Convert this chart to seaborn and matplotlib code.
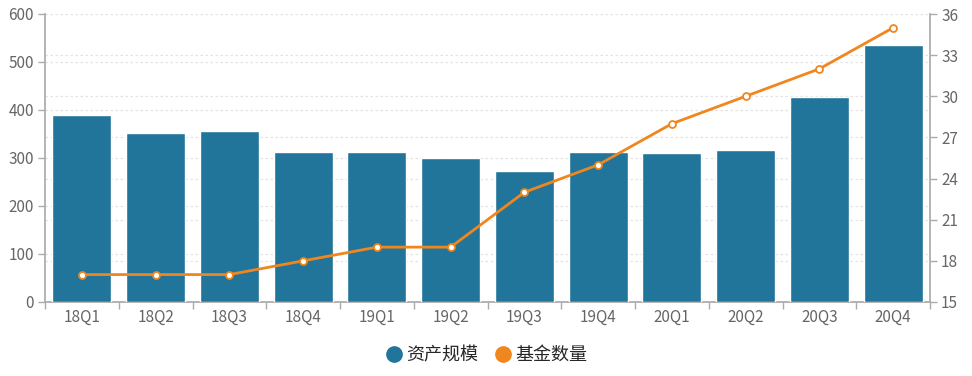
import numpy as np
import pandas as pd
import matplotlib
matplotlib.use("Agg")
import matplotlib.pyplot as plt
import seaborn as sns
from matplotlib.lines import Line2D
from matplotlib.ticker import FixedLocator

categories = ["18Q1", "18Q2", "18Q3", "18Q4", "19Q1", "19Q2", "19Q3", "19Q4",
              "20Q1", "20Q2", "20Q3", "20Q4"]
asset_scale = [390, 352, 356, 313, 313, 300, 272, 313, 311, 317, 428, 535]
fund_count = [17, 17, 17, 18, 19, 19, 23, 25, 28, 30, 32, 35]
series_names = ["资产规模", "基金数量"]
left_ticks = [0, 100, 200, 300, 400, 500, 600]
right_ticks = [15, 18, 21, 24, 27, 30, 33, 36]

sns.set_theme(style="white")
plt.rcParams['font.family'] = ['Noto Sans CJK SC', 'DejaVu Sans']

BAR_C = "#21759b"
LINE_C = "#f0861e"
AX_C = "#aaaaaa"
TXT_C = "#666666"
GRID_C = "#e3e3e3"

df = pd.DataFrame({"q": categories, "asset": asset_scale, "count": fund_count})

fig = plt.figure(figsize=(9.72, 3.76), dpi=100)
ax = fig.add_axes([45/972, 1 - 302/376, 885/972, 288/376])

sns.barplot(data=df, x="q", y="asset", color=BAR_C, width=0.8, saturation=1,
            ax=ax, zorder=3)
ax.set_xlim(-0.5, len(categories) - 0.5)
ax.set_ylim(0, 600)
ax.set_yticks(left_ticks)
ax.set_xlabel("")
ax.set_ylabel("")

ax2 = ax.twinx()
sns.lineplot(data=df, x="q", y="count", color=LINE_C, linewidth=2, sort=False,
             marker="o", markersize=5, markerfacecolor="white",
             markeredgecolor=LINE_C, markeredgewidth=1.3, ax=ax2, zorder=4)
ax2.set_ylim(15, 36)
ax2.set_yticks(right_ticks)
ax2.set_ylabel("")
ax2.set_xlim(-0.5, len(categories) - 0.5)

# grid lines (dotted) for both axes, all drawn beneath the bars
for t in left_ticks[1:]:
    ax.axhline(t, color=GRID_C, linestyle=(0, (2, 2)), linewidth=0.9, zorder=1)
r0, r1 = right_ticks[0], right_ticks[-1]
for t in right_ticks[1:-1]:
    f = (t - r0) / (r1 - r0)
    ax.plot([0, 1], [f, f], transform=ax.transAxes, color=GRID_C,
            linestyle=(0, (2, 2)), linewidth=0.9, zorder=1)
ax.set_zorder(1)
ax2.set_zorder(2)
ax2.patch.set_visible(False)

for a in (ax, ax2):
    for s in a.spines.values():
        s.set_visible(False)
ax.spines["left"].set_visible(True)
ax.spines["left"].set_color(AX_C)
ax.spines["bottom"].set_visible(True)
ax.spines["bottom"].set_color(AX_C)
ax2.spines["right"].set_visible(True)
ax2.spines["right"].set_color(AX_C)

ax.tick_params(axis="y", colors=AX_C, labelcolor=TXT_C, labelsize=11,
               length=5, width=1, direction="out", left=True, pad=3)
ax2.tick_params(axis="y", colors=AX_C, labelcolor=TXT_C, labelsize=11,
                length=5, width=1, direction="out", right=True, pad=3)
ax.tick_params(axis="x", which="major", length=0, labelcolor=TXT_C,
               labelsize=11, pad=5)
ax.xaxis.set_minor_locator(FixedLocator(np.arange(-0.5, len(categories), 1.0)))
ax.tick_params(axis="x", which="minor", length=5, width=1, color=AX_C,
               direction="out", bottom=True)
ax2.tick_params(axis="x", length=0)

handles = [Line2D([0], [0], marker="o", linestyle="", markersize=11,
                  markerfacecolor=BAR_C, markeredgecolor=BAR_C),
           Line2D([0], [0], marker="o", linestyle="", markersize=11,
                  markerfacecolor=LINE_C, markeredgecolor=LINE_C)]
fig.legend(handles, series_names, loc="center", bbox_to_anchor=(0.5, 1 - 355/376),
           ncol=2, frameon=False, fontsize=13, handletextpad=0.15,
           columnspacing=0.9, handlelength=1.0)

fig.savefig("out.png", dpi=100)
